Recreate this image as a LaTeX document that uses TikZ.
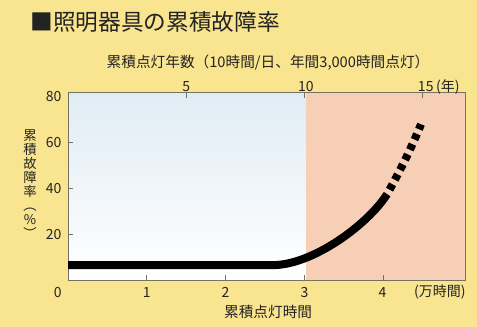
\documentclass[tikz,border=0pt]{standalone}
\usepackage{fontspec}
\setmainfont{Noto Sans CJK JP}
\usetikzlibrary{positioning}
\definecolor{bgyellow}{RGB}{249,228,143}
\definecolor{pinkzone}{RGB}{246,207,182}
\definecolor{skyblue}{RGB}{224,236,244}
\definecolor{framegray}{RGB}{118,114,96}
\definecolor{inkgray}{RGB}{35,35,35}

\begin{document}
\begin{tikzpicture}[
        x=0.75pt, y=0.75pt,
        lbl/.style={inner sep=0pt, text=inkgray, font=\fontsize{10.5}{12}\selectfont},
        capt/.style={inner sep=0pt, text=inkgray, font=\fontsize{11}{13}\selectfont},
        frame/.style={draw=framegray, line width=0.7pt},
        tick/.style={draw=framegray, line width=0.6pt},
        curve/.style={line width=6pt, black}
    ]
        % Background
        \fill[bgyellow] (0,0) rectangle (477,327);
        \useasboundingbox (0,0) rectangle (477,327);

        % Title
        \node[inner sep=0pt, text=inkgray, font=\fontsize{17}{20}\selectfont] (title) at (155,305) {■照明器具の累積故障率};
        \node[capt] (years) at (268,264) {累積点灯年数（10時間/日、年間3,000時間点灯）};
        \node[inner sep=0pt, text=inkgray, font=\fontsize{10}{10.5}\selectfont, align=center] (rate) at (30,143) {累\\積\\故\\障\\率\\︵\\\%\\︶};

        % Plot area
        \begin{scope}[shift={(68,47)}, x=59.1pt, y=1.7175pt]
            \shade[top color=skyblue, bottom color=white] (0,0) rectangle (3.02,81.7);
            \fill[pinkzone] (3.02,0) rectangle (5.04,81.7);
            \draw[frame] (0,0) rectangle (5.04,81.7);

            % Ticks
            \draw[tick] (1,0) -- (1,2.2);
            \draw[tick] (2,0) -- (2,2.2);
            \draw[tick] (3,0) -- (3,2.2);
            \draw[tick] (4,0) -- (4,2.2);
            \draw[tick] (0,20) -- (0.06,20);
            \draw[tick] (0,40) -- (0.06,40);
            \draw[tick] (0,60) -- (0.06,60);
            \draw[tick] (1.5,81.7) -- (1.5,79.5);
            \draw[tick] (3,81.7) -- (3,79.5);
            \draw[tick] (4.5,81.7) -- (4.5,79.5);

            % Curve
            \draw[curve] (0,6.5) -- (2.6,6.5) .. controls (3.1,6.5) and (3.8,24) .. (4.05,37.5);
            \draw[curve, dash pattern=on 4.6pt off 3.8pt, dash phase=4.6pt] (4.05,37.5) .. controls (4.25,50) and (4.36,58) .. (4.48,68);

            % Axis labels
            \node[lbl, anchor=east] (y80) at (-0.08,80) {80};
            \node[lbl, anchor=east] (y60) at (-0.08,60) {60};
            \node[lbl, anchor=east] (y40) at (-0.08,40) {40};
            \node[lbl, anchor=east] (y20) at (-0.08,20) {20};
            \node[lbl] (x0) at (-0.13,-5.3) {0};
            \node[lbl] (x1) at (1,-5.3) {1};
            \node[lbl] (x2) at (2,-5.3) {2};
            \node[lbl] (x3) at (3,-5.3) {3};
            \node[lbl] (x4) at (3.99,-5.3) {4};
            \node[lbl] (unit) at (4.72,-5.3) {(万時間)};
            \node[lbl] (t5) at (1.5,84.4) {5};
            \node[lbl] (t10) at (3.02,84.4) {10};
            \node[lbl] (t15) at (4.54,84.4) {15};
            \node[lbl, right=1.5pt of t15] (nen) {(年)};
            \node[capt] (hours) at (2.54,-14) {累積点灯時間};
        \end{scope}
    \end{tikzpicture}
\end{document}
